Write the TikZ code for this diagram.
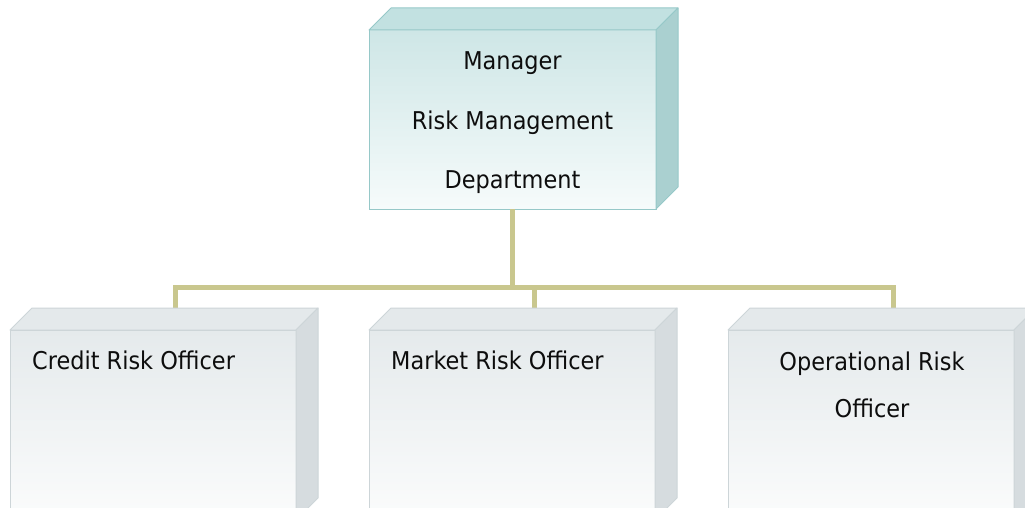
\documentclass[tikz,border=0pt]{standalone}
\usepackage{fontspec}
\newfontfamily\diafont[FakeStretch=0.915]{DejaVu Sans}
\definecolor{conncol}{RGB}{201,199,142}
\definecolor{tealtop}{RGB}{206,230,230}
\definecolor{tealbot}{RGB}{246,251,251}
\definecolor{tealedge}{RGB}{150,200,200}
\definecolor{tealface}{RGB}{194,225,225}
\definecolor{tealside}{RGB}{170,208,208}
\definecolor{graytop}{RGB}{229,234,236}
\definecolor{graybot}{RGB}{251,252,252}
\definecolor{grayedge}{RGB}{205,213,216}
\definecolor{grayface}{RGB}{228,233,235}
\definecolor{grayside}{RGB}{214,220,223}
\tikzset{
  x=1pt, y=-1pt,
  front/.style={rectangle, anchor=north west, inner sep=0pt, outer sep=0pt, line width=1pt},
  mgrbox/.style={front, draw=tealedge, top color=tealtop, bottom color=tealbot},
  offbox/.style={front, draw=grayedge, top color=graytop, bottom color=graybot},
  conn/.style={draw=conncol, line width=5pt},
  lbl/.style={font=\diafont\fontsize{24.5}{29}\selectfont, text=black!95, anchor=base, inner sep=0pt},
}
\newcommand{\depthfaces}[4]{%
  \filldraw[fill=#2, draw=#4, line width=1pt, line join=round] (#1.north west) -- ([shift={(22,-22)}]#1.north west) -- ([shift={(22,-22)}]#1.north east) -- (#1.north east) -- cycle;
  \filldraw[fill=#3, draw=#4, line width=1pt, line join=round] (#1.north east) -- ([shift={(22,-22)}]#1.north east) -- ([shift={(22,-22)}]#1.south east) -- (#1.south east) -- cycle;
}
\begin{document}
\begin{tikzpicture}
\useasboundingbox (0,0) rectangle (1025,508);
\clip (0,0) rectangle (1025,508);
% front faces
\node[mgrbox, minimum width=287pt, minimum height=179pt] (mgr) at (369,30) {};
\node[offbox, minimum width=286pt, minimum height=190pt] (credit) at (10,330) {};
\node[offbox, minimum width=286pt, minimum height=190pt] (market) at (369,330) {};
\node[offbox, minimum width=286pt, minimum height=190pt] (oper) at (728,330) {};
% connectors
\coordinate (bus) at ([yshift=-78pt]mgr.south);
\coordinate (c1) at ([shift={(22,-22)}]credit.north);
\coordinate (c2) at ([shift={(22,-22)}]market.north);
\coordinate (c3) at ([shift={(22,-22)}]oper.north);
\draw[conn] (mgr.south) -- (bus);
\draw[conn] (c1) -- (c1 |- bus) -- (c3 |- bus) -- (c3);
\draw[conn] (c2) -- (c2 |- bus);
% 3D faces
\depthfaces{mgr}{tealface}{tealside}{tealedge}
\depthfaces{credit}{grayface}{grayside}{grayedge}
\depthfaces{market}{grayface}{grayside}{grayedge}
\depthfaces{oper}{grayface}{grayside}{grayedge}
% labels
\node[lbl] (t1) at (512.5,70) {Manager};
\node[lbl] (t2) at (512.5,129) {Risk Management};
\node[lbl] (t3) at (512.5,188) {Department};
\node[lbl, anchor=base west] (t4) at (32,369) {Credit Risk Officer};
\node[lbl, anchor=base west] (t5) at (391,369) {Market Risk Officer};
\node[lbl] (t6) at (872,370) {Operational Risk};
\node[lbl] (t7) at (872,417) {Officer};
\end{tikzpicture}
\end{document}
